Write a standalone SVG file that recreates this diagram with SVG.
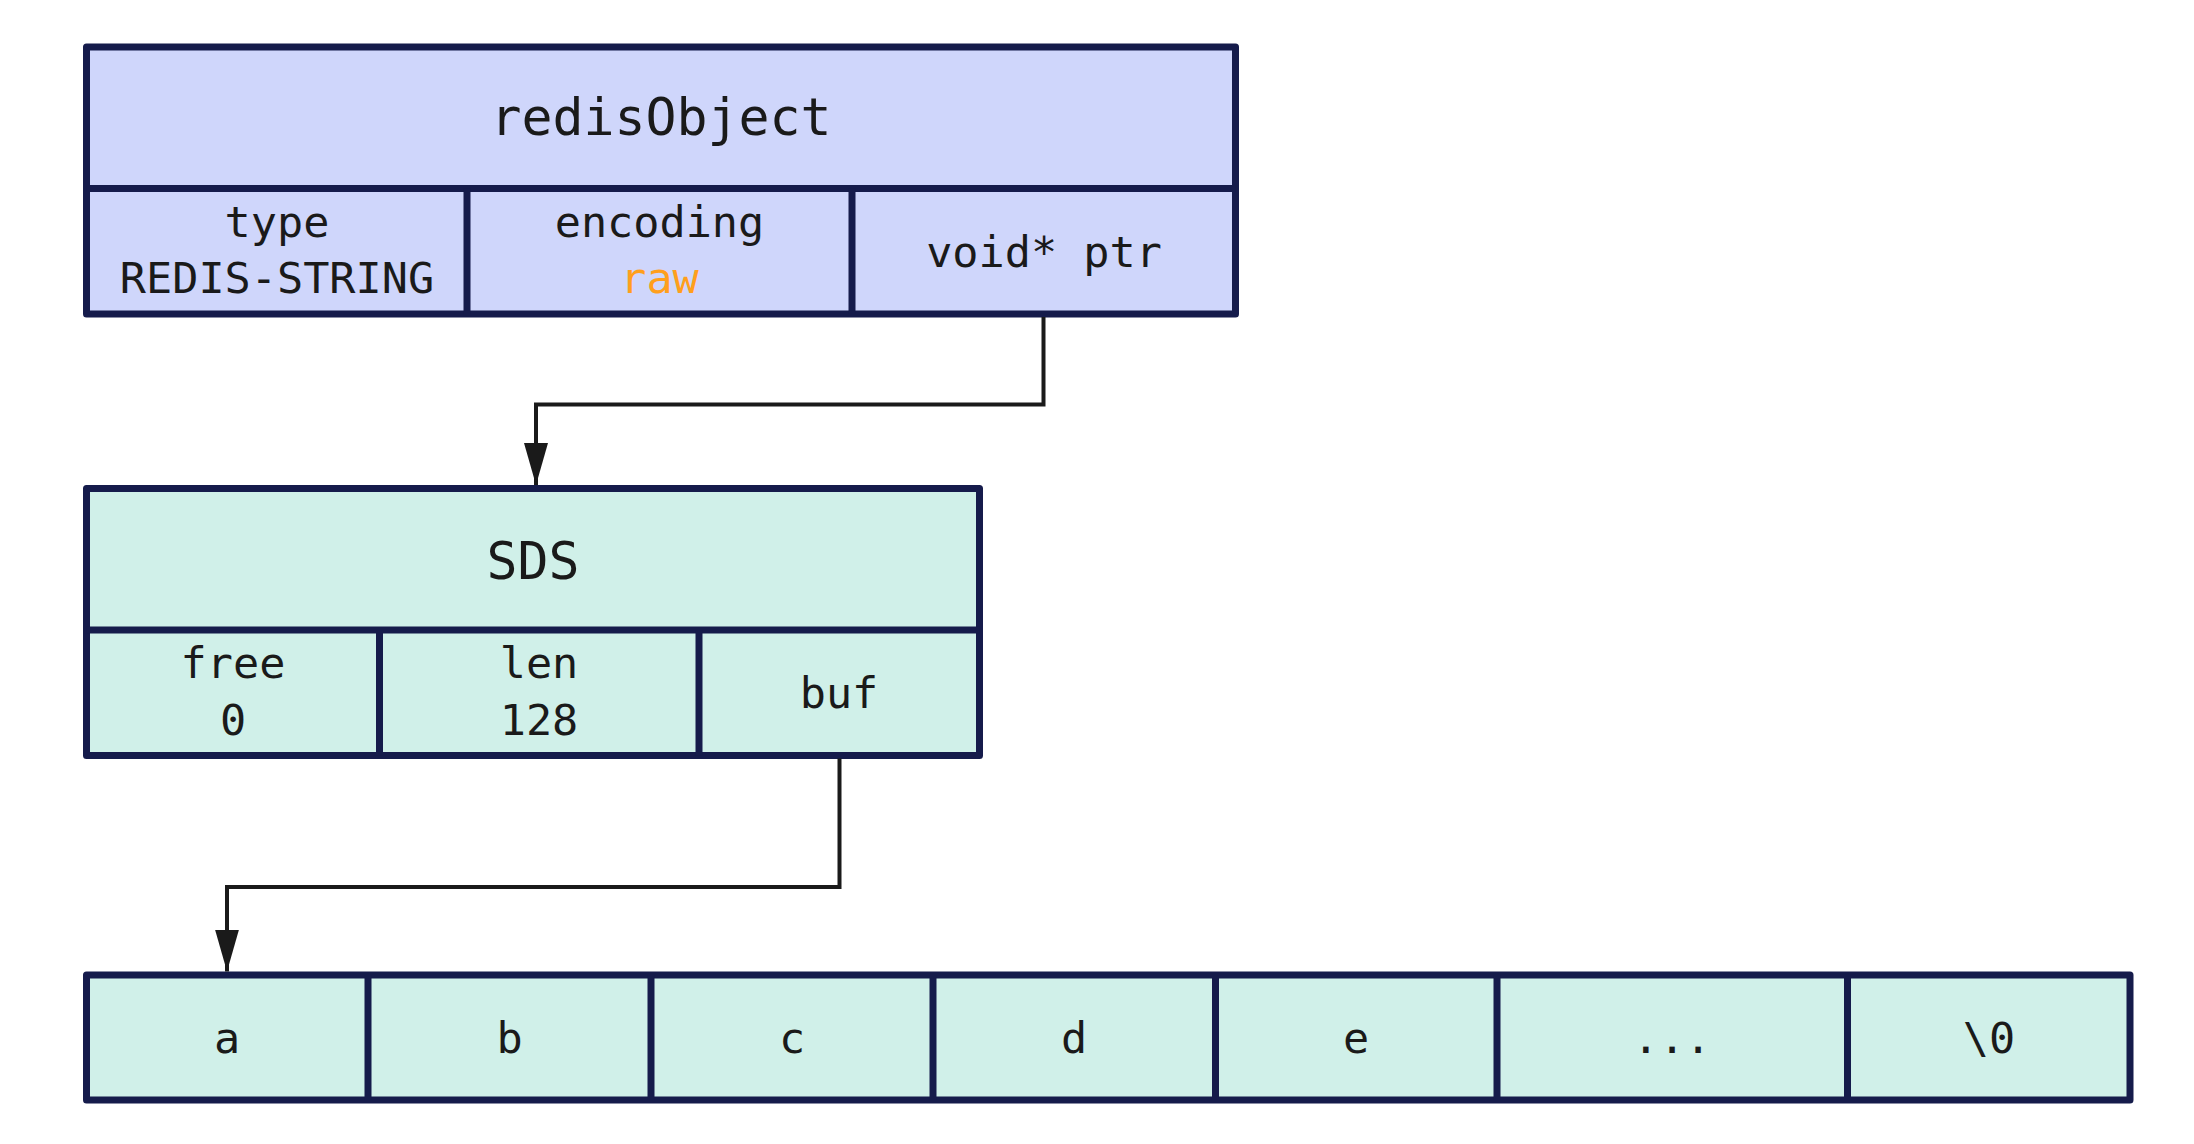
<svg xmlns="http://www.w3.org/2000/svg" width="2194" height="1144" viewBox="0 0 2194 1144">
<defs>
<style>
.box{stroke:#151b4b;stroke-width:7;stroke-linejoin:round}
.ln{stroke:#151b4b;stroke-width:7;fill:none}
.obj{fill:#cfd6fb}
.sds{fill:#d0f0e9}
.t{font-family:"DejaVu Sans Mono","Liberation Mono",monospace;fill:#1a1a1a;text-anchor:middle}
.title{font-size:51.5px}
.cell{font-size:43.5px}
.orange{fill:#ff9f1c}
.conn{stroke:#1a1a1a;stroke-width:4;fill:none}
</style>
<marker id="arr" markerUnits="userSpaceOnUse" markerWidth="44" markerHeight="26" refX="42" refY="12" orient="auto">
<path d="M0,0 L42,12 L0,24 z" fill="#1a1a1a"/>
</marker>
</defs>
<rect width="2194" height="1144" fill="#ffffff"/>

<g id="redisObject">
<rect class="box obj" x="86.5" y="47" width="1149" height="267"/>
<line class="ln" x1="86.5" y1="188.5" x2="1235.5" y2="188.5"/>
<line class="ln" x1="467" y1="188.5" x2="467" y2="314"/>
<line class="ln" x1="852" y1="188.5" x2="852" y2="314"/>
<text class="t title" x="661" y="135">redisObject</text>
<text class="t cell" x="277" y="237">type</text>
<text class="t cell" x="277" y="293">REDIS-STRING</text>
<text class="t cell" x="659.5" y="237">encoding</text>
<text class="t cell orange" x="659.5" y="293">raw</text>
<text class="t cell" x="1044" y="267">void* ptr</text>
</g>

<g id="sds">
<rect class="box sds" x="86.5" y="488.5" width="893" height="267"/>
<line class="ln" x1="86.5" y1="630" x2="979.5" y2="630"/>
<line class="ln" x1="379.5" y1="630" x2="379.5" y2="755.5"/>
<line class="ln" x1="699" y1="630" x2="699" y2="755.5"/>
<text class="t title" x="533" y="579">SDS</text>
<text class="t cell" x="233" y="678">free</text>
<text class="t cell" x="233" y="735">0</text>
<text class="t cell" x="539" y="678">len</text>
<text class="t cell" x="539" y="735">128</text>
<text class="t cell" x="839" y="708">buf</text>
</g>

<g id="buffer">
<rect class="box sds" x="86.5" y="975" width="2043.5" height="125"/>
<line class="ln" x1="368" y1="975" x2="368" y2="1100"/>
<line class="ln" x1="651" y1="975" x2="651" y2="1100"/>
<line class="ln" x1="933" y1="975" x2="933" y2="1100"/>
<line class="ln" x1="1215.5" y1="975" x2="1215.5" y2="1100"/>
<line class="ln" x1="1497" y1="975" x2="1497" y2="1100"/>
<line class="ln" x1="1847.5" y1="975" x2="1847.5" y2="1100"/>
<text class="t cell" x="227" y="1053">a</text>
<text class="t cell" x="509.5" y="1053">b</text>
<text class="t cell" x="792" y="1053">c</text>
<text class="t cell" x="1074" y="1053">d</text>
<text class="t cell" x="1356" y="1053">e</text>
<text class="t cell" x="1672" y="1053">...</text>
<text class="t cell" x="1989" y="1053">\0</text>
</g>

<g id="connectors">
<path class="conn" d="M1043.5,317 V404.5 H536 V485" marker-end="url(#arr)"/>
<path class="conn" d="M839.5,758.5 V887 H227 V971.5" marker-end="url(#arr)"/>
</g>
</svg>
